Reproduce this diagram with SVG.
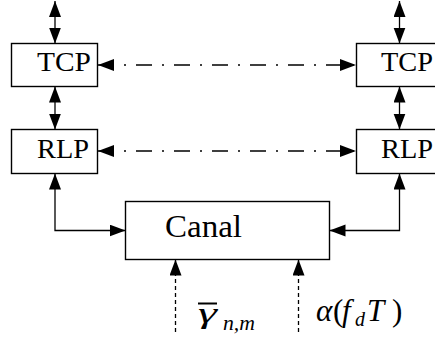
<svg xmlns="http://www.w3.org/2000/svg" width="435" height="339" viewBox="0 0 435 339">
<style>
.box{fill:#fff;stroke:#000;stroke-width:1.4}
.lbl{font-family:"Liberation Serif","Times New Roman",serif;fill:#000}
.it{font-style:italic}
.ln{fill:none;stroke:#000;stroke-width:1.3}
.dd{stroke-dasharray:16 10 2 10}
.dash{stroke-dasharray:4 3}
</style>
<defs>
<marker id="ah" markerUnits="userSpaceOnUse" markerWidth="17" markerHeight="13" refX="16" refY="6" orient="auto-start-reverse">
<path d="M0,0 L16,6 L0,12 z" fill="#000"/>
</marker>
</defs>
<rect width="435" height="339" fill="#fff"/>
<g id="tcp-left">
<rect class="box" x="11.5" y="43.5" width="86" height="43"/>
<text class="lbl" x="37" y="71" font-size="27" textLength="54" lengthAdjust="spacingAndGlyphs">TCP</text>
</g>
<g id="tcp-right">
<rect class="box" x="356.5" y="43.5" width="86" height="43"/>
<text class="lbl" x="381" y="71" font-size="27" textLength="52" lengthAdjust="spacingAndGlyphs">TCP</text>
</g>
<g id="rlp-left">
<rect class="box" x="11.5" y="129.5" width="86" height="44"/>
<text class="lbl" x="37" y="157.5" font-size="27" textLength="52" lengthAdjust="spacingAndGlyphs">RLP</text>
</g>
<g id="rlp-right">
<rect class="box" x="356.5" y="129.5" width="86" height="44"/>
<text class="lbl" x="381" y="157.5" font-size="27" textLength="52" lengthAdjust="spacingAndGlyphs">RLP</text>
</g>
<g id="canal">
<rect class="box" x="125.5" y="201.5" width="204" height="58"/>
<text class="lbl" x="165" y="237" font-size="31" textLength="77" lengthAdjust="spacingAndGlyphs">Canal</text>
</g>
<g id="gamma">
<line x1="198" y1="303.5" x2="217" y2="303.5" stroke="#000" stroke-width="2"/>
<text class="lbl it" x="198" y="323" font-size="30" textLength="19" lengthAdjust="spacingAndGlyphs">γ</text>
<text class="lbl it" x="223" y="330" font-size="20" textLength="32" lengthAdjust="spacingAndGlyphs">n,m</text>
</g>
<g id="alpha">
<text class="lbl" y="321" font-size="31"><tspan class="it" x="316">α</tspan><tspan x="333">(</tspan><tspan class="it" x="342">f</tspan><tspan class="it" font-size="20" x="355" dy="5">d</tspan><tspan class="it" x="367" dy="-5">T</tspan><tspan x="392">)</tspan></text>
</g>
<g id="connectors">
<line class="ln" x1="55" y1="1" x2="55" y2="43.5" marker-start="url(#ah)" marker-end="url(#ah)"/>
<line class="ln" x1="399.5" y1="1" x2="399.5" y2="43.5" marker-start="url(#ah)" marker-end="url(#ah)"/>
<line class="ln" x1="55" y1="86.5" x2="55" y2="129.5" marker-start="url(#ah)" marker-end="url(#ah)"/>
<line class="ln" x1="399.5" y1="86.5" x2="399.5" y2="129.5" marker-start="url(#ah)" marker-end="url(#ah)"/>
<line class="ln dd" x1="98" y1="65" x2="356" y2="65" marker-start="url(#ah)" marker-end="url(#ah)"/>
<line class="ln dd" x1="98" y1="151" x2="356" y2="151" marker-start="url(#ah)" marker-end="url(#ah)"/>
<polyline class="ln" points="55,173.5 55,230.5 125.5,230.5" marker-start="url(#ah)" marker-end="url(#ah)"/>
<polyline class="ln" points="399.5,173.5 399.5,230.5 329.5,230.5" marker-start="url(#ah)" marker-end="url(#ah)"/>
<line class="ln dash" x1="175.5" y1="332" x2="175.5" y2="259.5" marker-end="url(#ah)"/>
<line class="ln dash" x1="298.5" y1="332" x2="298.5" y2="259.5" marker-end="url(#ah)"/>
</g>
</svg>
